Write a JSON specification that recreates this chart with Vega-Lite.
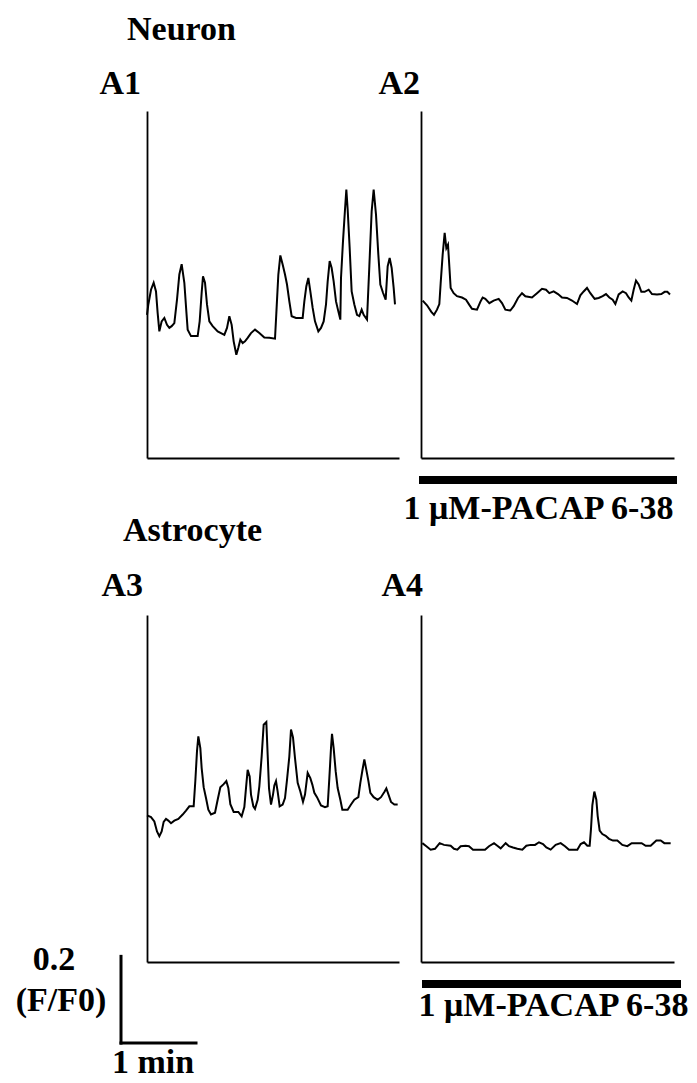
{
  "$schema": "https://vega.github.io/schema/vega-lite/v6.json",
  "background": "white",
  "padding": {"left": 15, "top": 13, "right": 5, "bottom": 5},
  "bounds": "flush",
  "columns": 2,
  "spacing": {"row": 157, "column": 22},
  "config": {
    "view": {"stroke": null},
    "font": "Liberation Serif",
    "axis": {"domainColor": "black", "domainWidth": 1.8, "ticks": false, "labels": false, "grid": false,
             "titleFont": "Liberation Serif", "titleFontSize": 34, "titleFontWeight": "bold", "titleColor": "black"},
    "title": {"font": "Liberation Serif", "fontSize": 34, "fontWeight": "bold", "color": "black",
              "anchor": "start", "frame": "group", "baseline": "alphabetic"}
  },
  "datasets": {
    "A1": [
      {"t":0.0,"f":1.030},{"t":1.07,"f":1.054},{"t":3.2,"f":1.088},{"t":5.33,"f":1.104},{"t":7.2,"f":1.084},
      {"t":8.53,"f":1.034},{"t":9.87,"f":0.992},{"t":11.73,"f":1.015},{"t":13.87,"f":1.023},{"t":16.0,"f":1.007},
      {"t":17.87,"f":1.000},{"t":19.73,"f":1.004},{"t":21.87,"f":1.011},{"t":24.0,"f":1.065},{"t":25.87,"f":1.123},
      {"t":27.73,"f":1.147},{"t":29.87,"f":1.104},{"t":31.47,"f":1.038},{"t":32.53,"f":0.996},{"t":35.2,"f":0.981},
      {"t":40.53,"f":0.981},{"t":42.13,"f":1.015},{"t":43.73,"f":1.081},{"t":44.8,"f":1.119},{"t":46.4,"f":1.104},
      {"t":48.0,"f":1.054},{"t":49.87,"f":1.015},{"t":52.53,"f":1.004},{"t":56.53,"f":0.992},{"t":61.87,"f":0.984},
      {"t":64.0,"f":1.000},{"t":65.87,"f":1.027},{"t":67.73,"f":1.007},{"t":69.33,"f":0.969},{"t":71.47,"f":0.938},
      {"t":73.07,"f":0.954},{"t":74.67,"f":0.973},{"t":76.53,"f":0.965},{"t":78.4,"f":0.969},{"t":80.53,"f":0.977},
      {"t":83.2,"f":0.988},{"t":86.4,"f":0.996},{"t":89.87,"f":0.988},{"t":93.87,"f":0.978},{"t":97.87,"f":0.977},
      {"t":102.4,"f":0.975},{"t":103.47,"f":1.034},{"t":105.07,"f":1.123},{"t":106.67,"f":1.167},{"t":108.53,"f":1.146},
      {"t":110.4,"f":1.123},{"t":112.0,"f":1.100},{"t":113.87,"f":1.061},{"t":115.73,"f":1.027},{"t":119.2,"f":1.023},
      {"t":124.53,"f":1.023},{"t":125.87,"f":1.061},{"t":127.47,"f":1.096},{"t":129.07,"f":1.115},{"t":130.67,"f":1.084},
      {"t":132.53,"f":1.046},{"t":134.4,"f":1.015},{"t":137.07,"f":0.992},{"t":139.2,"f":1.000},{"t":141.33,"f":1.015},
      {"t":143.2,"f":1.054},{"t":144.53,"f":1.107},{"t":146.13,"f":1.154},{"t":147.73,"f":1.138},{"t":149.33,"f":1.107},
      {"t":151.2,"f":1.061},{"t":153.07,"f":1.038},{"t":154.67,"f":1.019},{"t":155.2,"f":1.115},{"t":156.8,"f":1.200},
      {"t":158.4,"f":1.273},{"t":159.47,"f":1.319},{"t":160.53,"f":1.273},{"t":162.13,"f":1.184},{"t":163.73,"f":1.084},
      {"t":165.87,"f":1.054},{"t":168.0,"f":1.030},{"t":169.87,"f":1.027},{"t":171.73,"f":1.042},{"t":173.33,"f":1.030},
      {"t":176.0,"f":1.019},{"t":177.87,"f":1.142},{"t":179.73,"f":1.269},{"t":181.33,"f":1.319},{"t":183.2,"f":1.261},
      {"t":185.07,"f":1.169},{"t":186.67,"f":1.100},{"t":188.8,"f":1.081},{"t":190.93,"f":1.065},{"t":192.53,"f":1.142},
      {"t":194.13,"f":1.161},{"t":195.73,"f":1.138},{"t":197.33,"f":1.092},{"t":198.4,"f":1.054}
    ],
    "A2": [
      {"t":1.33,"f":1.063},{"t":4.8,"f":1.052},{"t":8.27,"f":1.037},{"t":10.4,"f":1.030},{"t":12.8,"f":1.042},
      {"t":14.67,"f":1.055},{"t":15.73,"f":1.103},{"t":17.33,"f":1.169},{"t":18.93,"f":1.219},{"t":20.27,"f":1.184},
      {"t":21.6,"f":1.192},{"t":22.67,"f":1.142},{"t":23.73,"f":1.092},{"t":26.13,"f":1.080},{"t":28.8,"f":1.073},
      {"t":32.8,"f":1.070},{"t":36.0,"f":1.065},{"t":38.67,"f":1.053},{"t":40.8,"f":1.044},{"t":44.8,"f":1.042},
      {"t":47.47,"f":1.060},{"t":49.33,"f":1.070},{"t":51.47,"f":1.067},{"t":54.67,"f":1.057},{"t":58.13,"f":1.063},
      {"t":62.13,"f":1.067},{"t":64.8,"f":1.057},{"t":67.47,"f":1.042},{"t":71.47,"f":1.040},{"t":74.13,"f":1.050},
      {"t":77.6,"f":1.069},{"t":80.8,"f":1.080},{"t":83.47,"f":1.073},{"t":88.8,"f":1.070},{"t":92.8,"f":1.080},
      {"t":96.8,"f":1.090},{"t":100.0,"f":1.088},{"t":102.67,"f":1.080},{"t":106.13,"f":1.084},{"t":109.6,"f":1.078},
      {"t":112.8,"f":1.070},{"t":116.8,"f":1.069},{"t":120.8,"f":1.063},{"t":124.8,"f":1.055},{"t":127.47,"f":1.075},
      {"t":130.13,"f":1.084},{"t":132.8,"f":1.092},{"t":135.47,"f":1.080},{"t":138.93,"f":1.067},{"t":142.13,"f":1.069},
      {"t":145.33,"f":1.073},{"t":148.0,"f":1.078},{"t":150.67,"f":1.070},{"t":153.33,"f":1.065},{"t":155.47,"f":1.055},
      {"t":158.13,"f":1.077},{"t":161.33,"f":1.084},{"t":164.0,"f":1.080},{"t":166.13,"f":1.070},{"t":168.27,"f":1.063},
      {"t":170.13,"f":1.088},{"t":172.0,"f":1.109},{"t":174.13,"f":1.100},{"t":176.27,"f":1.083},{"t":178.93,"f":1.083},
      {"t":182.13,"f":1.088},{"t":184.8,"f":1.078},{"t":188.8,"f":1.077},{"t":192.27,"f":1.078},{"t":194.93,"f":1.083},
      {"t":197.07,"f":1.083},{"t":199.2,"f":1.077}
    ],
    "A3": [
      {"t":0.0,"f":1.038},{"t":3.2,"f":1.034},{"t":5.87,"f":1.024},{"t":8.0,"f":1.001},{"t":9.87,"f":0.990},
      {"t":11.73,"f":1.001},{"t":13.33,"f":1.023},{"t":15.2,"f":1.030},{"t":17.07,"f":1.026},{"t":19.2,"f":1.020},
      {"t":21.87,"f":1.026},{"t":25.07,"f":1.030},{"t":28.53,"f":1.040},{"t":31.2,"f":1.049},{"t":33.87,"f":1.059},
      {"t":37.33,"f":1.059},{"t":38.67,"f":1.118},{"t":40.0,"f":1.186},{"t":41.07,"f":1.220},{"t":42.67,"f":1.193},
      {"t":43.73,"f":1.147},{"t":45.33,"f":1.103},{"t":47.2,"f":1.078},{"t":49.07,"f":1.051},{"t":51.2,"f":1.040},
      {"t":54.4,"f":1.044},{"t":56.53,"f":1.074},{"t":58.67,"f":1.103},{"t":61.33,"f":1.110},{"t":63.47,"f":1.117},
      {"t":65.07,"f":1.101},{"t":66.67,"f":1.064},{"t":69.33,"f":1.046},{"t":73.07,"f":1.046},{"t":75.73,"f":1.036},
      {"t":77.87,"f":1.057},{"t":79.2,"f":1.101},{"t":80.53,"f":1.143},{"t":82.13,"f":1.128},{"t":83.2,"f":1.086},
      {"t":85.07,"f":1.059},{"t":86.4,"f":1.053},{"t":88.53,"f":1.074},{"t":89.87,"f":1.105},{"t":91.73,"f":1.174},
      {"t":93.33,"f":1.247},{"t":95.47,"f":1.253},{"t":96.53,"f":1.178},{"t":97.6,"f":1.101},{"t":99.2,"f":1.063},
      {"t":100.8,"f":1.086},{"t":101.87,"f":1.107},{"t":103.2,"f":1.117},{"t":104.53,"f":1.093},{"t":106.13,"f":1.059},
      {"t":108.53,"f":1.063},{"t":110.4,"f":1.078},{"t":112.0,"f":1.120},{"t":113.87,"f":1.174},{"t":115.2,"f":1.236},
      {"t":116.8,"f":1.218},{"t":118.4,"f":1.170},{"t":120.53,"f":1.113},{"t":122.67,"f":1.093},{"t":124.8,"f":1.069},
      {"t":126.4,"f":1.086},{"t":128.53,"f":1.136},{"t":130.67,"f":1.124},{"t":132.27,"f":1.109},{"t":133.87,"f":1.090},
      {"t":136.0,"f":1.080},{"t":139.2,"f":1.061},{"t":142.4,"f":1.057},{"t":144.53,"f":1.059},{"t":145.87,"f":1.124},
      {"t":147.2,"f":1.193},{"t":148.0,"f":1.226},{"t":149.33,"f":1.193},{"t":150.93,"f":1.140},{"t":152.53,"f":1.101},
      {"t":154.67,"f":1.074},{"t":156.27,"f":1.051},{"t":160.53,"f":1.051},{"t":163.2,"f":1.063},{"t":165.87,"f":1.074},
      {"t":169.07,"f":1.080},{"t":170.67,"f":1.113},{"t":172.27,"f":1.141},{"t":173.87,"f":1.167},{"t":175.47,"f":1.143},
      {"t":177.07,"f":1.118},{"t":178.67,"f":1.090},{"t":181.33,"f":1.080},{"t":184.53,"f":1.074},{"t":187.2,"f":1.080},
      {"t":189.87,"f":1.092},{"t":191.47,"f":1.100},{"t":193.07,"f":1.087},{"t":195.2,"f":1.069},{"t":197.87,"f":1.063},
      {"t":200.53,"f":1.063}
    ],
    "A4": [
      {"t":1.07,"f":0.974},{"t":4.27,"f":0.967},{"t":7.73,"f":0.959},{"t":11.2,"f":0.961},{"t":14.93,"f":0.974},
      {"t":18.4,"f":0.970},{"t":23.73,"f":0.968},{"t":26.4,"f":0.961},{"t":29.07,"f":0.959},{"t":31.73,"f":0.967},
      {"t":35.73,"f":0.968},{"t":38.4,"f":0.967},{"t":41.6,"f":0.959},{"t":46.4,"f":0.959},{"t":51.2,"f":0.959},
      {"t":54.4,"f":0.967},{"t":58.4,"f":0.974},{"t":61.07,"f":0.968},{"t":63.73,"f":0.962},{"t":67.73,"f":0.974},
      {"t":70.4,"f":0.967},{"t":73.6,"f":0.964},{"t":77.07,"f":0.961},{"t":81.07,"f":0.959},{"t":84.27,"f":0.968},
      {"t":87.73,"f":0.970},{"t":91.2,"f":0.970},{"t":94.4,"f":0.976},{"t":97.6,"f":0.972},{"t":100.27,"f":0.964},
      {"t":103.73,"f":0.959},{"t":107.73,"f":0.970},{"t":111.73,"f":0.974},{"t":115.2,"f":0.967},{"t":118.4,"f":0.959},
      {"t":122.4,"f":0.959},{"t":125.07,"f":0.959},{"t":127.73,"f":0.972},{"t":130.4,"f":0.976},{"t":133.07,"f":0.968},
      {"t":134.93,"f":0.968},{"t":136.0,"f":1.007},{"t":137.07,"f":1.061},{"t":138.67,"f":1.093},{"t":140.27,"f":1.074},
      {"t":141.33,"f":1.037},{"t":142.93,"f":1.003},{"t":145.07,"f":0.995},{"t":147.73,"f":0.991},{"t":150.4,"f":0.984},
      {"t":153.6,"f":0.980},{"t":157.07,"f":0.980},{"t":161.07,"f":0.970},{"t":165.07,"f":0.967},{"t":168.53,"f":0.974},
      {"t":172.27,"f":0.974},{"t":176.53,"f":0.974},{"t":179.73,"f":0.968},{"t":183.73,"f":0.968},{"t":188.27,"f":0.980},
      {"t":191.73,"f":0.980},{"t":194.67,"f":0.974},{"t":199.73,"f":0.974}
    ],
    "stimA2": [{"start": -1.6, "end": 204.8, "level": 0.649}],
    "stimA4": [{"start": 0.8, "end": 208.0, "level": 0.649}],
    "scalebar": [{"t": -20.8, "t2": 39.2, "f": 0.513, "f2": 0.713}],
    "scalelabels": [
      {"label": "0.2", "t": -74.4, "f": 0.682},
      {"label": "(F/F0)", "t": -68.8, "f": 0.587},
      {"label": "1 min", "t": 4.8, "f": 0.444}
    ]
  },
  "concat": [
    {
      "width": 252, "height": 347,
      "title": {"text": "Neuron", "dx": -20, "offset": 19},
      "data": {"name": "A1"},
      "mark": {"type": "line", "color": "black", "strokeWidth": 2},
      "encoding": {
        "x": {"field": "t", "type": "quantitative", "scale": {"domain": [0, 201.6], "nice": false, "zero": false}, "axis": {"title": null}},
        "y": {"field": "f", "type": "quantitative", "scale": {"domain": [0.7, 1.5], "nice": false, "zero": false},
              "axis": {"title": "A1", "titleAngle": 0, "titleAlign": "left", "titleBaseline": "alphabetic", "titleX": -48, "titleY": -18}}
      }
    },
    {
      "width": 253, "height": 347,
      "layer": [
        {
          "data": {"name": "A2"},
          "mark": {"type": "line", "color": "black", "strokeWidth": 2},
          "encoding": {
            "x": {"field": "t", "type": "quantitative", "scale": {"domain": [0, 202.4], "nice": false, "zero": false},
                  "axis": {"title": "1 μM-PACAP 6-38", "titleAlign": "center", "titleBaseline": "alphabetic", "titleX": 117, "titleY": 60}},
            "y": {"field": "f", "type": "quantitative", "scale": {"domain": [0.7, 1.5], "nice": false, "zero": false},
                  "axis": {"title": "A2", "titleAngle": 0, "titleAlign": "left", "titleBaseline": "alphabetic", "titleX": -43, "titleY": -18}}
          }
        },
        {
          "data": {"name": "stimA2"},
          "mark": {"type": "rule", "color": "black", "strokeWidth": 8, "strokeCap": "butt"},
          "encoding": {
            "x": {"field": "start", "type": "quantitative",
                  "axis": {"title": "1 μM-PACAP 6-38", "titleAlign": "center", "titleBaseline": "alphabetic", "titleX": 117, "titleY": 60}},
            "x2": {"field": "end"},
            "y": {"field": "level", "type": "quantitative",
                  "axis": {"title": "A2", "titleAngle": 0, "titleAlign": "left", "titleBaseline": "alphabetic", "titleX": -43, "titleY": -18}}
          }
        }
      ]
    },
    {
      "width": 252, "height": 347,
      "title": {"text": "Astrocyte", "dx": -24, "offset": 20},
      "layer": [
        {
          "data": {"name": "A3"},
          "mark": {"type": "line", "color": "black", "strokeWidth": 2},
          "encoding": {
            "x": {"field": "t", "type": "quantitative", "scale": {"domain": [0, 201.6], "nice": false, "zero": false}, "axis": {"title": null}},
            "y": {"field": "f", "type": "quantitative", "scale": {"domain": [0.7, 1.5], "nice": false, "zero": false},
                  "axis": {"title": "A3", "titleAngle": 0, "titleAlign": "left", "titleBaseline": "alphabetic", "titleX": -46, "titleY": -20}}
          }
        },
        {
          "data": {"name": "scalebar"},
          "mark": {"type": "rule", "color": "black", "strokeWidth": 3, "strokeCap": "square"},
          "encoding": {
            "x": {"field": "t", "type": "quantitative", "axis": {"title": null}},
            "y": {"field": "f", "type": "quantitative", "axis": {"title": "A3", "titleAngle": 0, "titleAlign": "left", "titleBaseline": "alphabetic", "titleX": -46, "titleY": -20}},
            "y2": {"field": "f2"}
          }
        },
        {
          "data": {"name": "scalebar"},
          "mark": {"type": "rule", "color": "black", "strokeWidth": 3, "strokeCap": "square"},
          "encoding": {
            "x": {"field": "t", "type": "quantitative", "axis": {"title": null}},
            "x2": {"field": "t2"},
            "y": {"field": "f", "type": "quantitative", "axis": {"title": "A3", "titleAngle": 0, "titleAlign": "left", "titleBaseline": "alphabetic", "titleX": -46, "titleY": -20}}
          }
        },
        {
          "data": {"name": "scalelabels"},
          "mark": {"type": "text", "color": "black", "font": "Liberation Serif", "fontSize": 34, "fontWeight": "bold", "align": "center", "baseline": "alphabetic"},
          "encoding": {
            "x": {"field": "t", "type": "quantitative", "axis": {"title": null}},
            "y": {"field": "f", "type": "quantitative", "axis": {"title": "A3", "titleAngle": 0, "titleAlign": "left", "titleBaseline": "alphabetic", "titleX": -46, "titleY": -20}},
            "text": {"field": "label"}
          }
        }
      ]
    },
    {
      "width": 253, "height": 347,
      "layer": [
        {
          "data": {"name": "A4"},
          "mark": {"type": "line", "color": "black", "strokeWidth": 2},
          "encoding": {
            "x": {"field": "t", "type": "quantitative", "scale": {"domain": [0, 202.4], "nice": false, "zero": false},
                  "axis": {"title": "1 μM-PACAP 6-38", "titleAlign": "center", "titleBaseline": "alphabetic", "titleX": 132, "titleY": 53}},
            "y": {"field": "f", "type": "quantitative", "scale": {"domain": [0.7, 1.5], "nice": false, "zero": false},
                  "axis": {"title": "A4", "titleAngle": 0, "titleAlign": "left", "titleBaseline": "alphabetic", "titleX": -40, "titleY": -20}}
          }
        },
        {
          "data": {"name": "stimA4"},
          "mark": {"type": "rule", "color": "black", "strokeWidth": 8, "strokeCap": "butt"},
          "encoding": {
            "x": {"field": "start", "type": "quantitative",
                  "axis": {"title": "1 μM-PACAP 6-38", "titleAlign": "center", "titleBaseline": "alphabetic", "titleX": 132, "titleY": 53}},
            "x2": {"field": "end"},
            "y": {"field": "level", "type": "quantitative",
                  "axis": {"title": "A4", "titleAngle": 0, "titleAlign": "left", "titleBaseline": "alphabetic", "titleX": -40, "titleY": -20}}
          }
        }
      ]
    }
  ]
}
